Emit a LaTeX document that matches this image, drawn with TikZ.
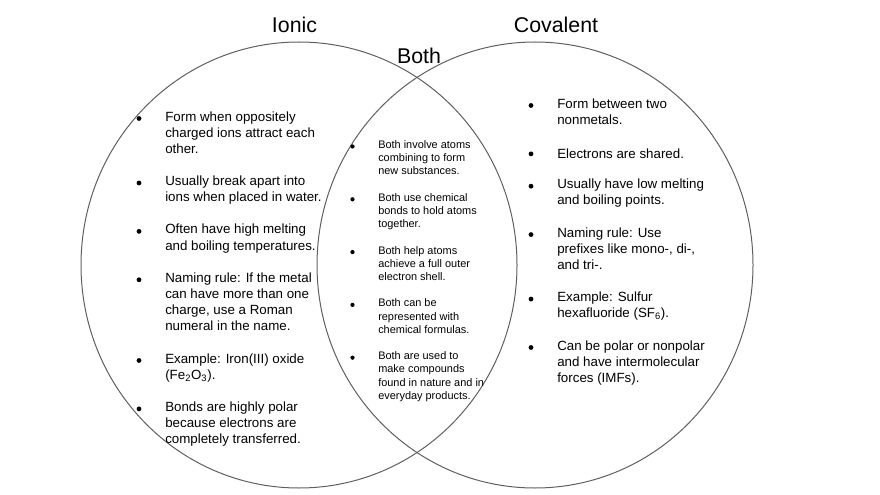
\documentclass[tikz,border=0pt]{standalone}
\usepackage{fontspec}
\setmainfont{Liberation Sans}
\usepackage{xcolor}
\usetikzlibrary{calc}
\definecolor{ringGray}{HTML}{5f5f5f}

\begin{document}
\begin{tikzpicture}[
  x=0.75pt, y=-0.75pt,
  ring/.style={draw=ringGray, line width=0.75pt},
  title/.style={anchor=base, inner sep=0pt, font=\fontsize{16}{19}\selectfont},
  sideItem/.style={anchor=north west, align=left, inner sep=0pt, yshift=-1.1pt,
    font=\fontsize{10}{12.1}\selectfont, execute at begin node=\strut},
  midItem/.style={anchor=north west, align=left, inner sep=0pt, yshift=-1.1pt,
    font=\fontsize{8.2}{9.9}\selectfont, execute at begin node=\strut},
]
  \useasboundingbox (0,0) rectangle (880,495);

  % the two sets
  \draw[ring] (299,265) ellipse [x radius=218, y radius=223];
  \draw[ring] (535,265) ellipse [x radius=218, y radius=223];

  \node[title] (ionic) at (294.5,33) {Ionic};
  \node[title] (covalent) at (556,33) {Covalent};
  \node[title] (both) at (419,64) {Both};

  % Ionic
  \node[sideItem] (ion1) at (165,109.7) {Form when oppositely\\charged ions attract each\\other.};
  \node[sideItem] (ion2) at (165,174.2) {Usually break apart into\\ions when placed in water.};
  \node[sideItem] (ion3) at (165,222.6) {Often have high melting\\and boiling temperatures.};
  \node[sideItem] (ion4) at (165,271.0) {Naming rule: If the metal\\can have more than one\\charge, use a Roman\\numeral in the name.};
  \node[sideItem] (ion5) at (165,351.7) {Example: Iron(III) oxide\\(Fe\textsubscript{2}O\textsubscript{3}).};
  \node[sideItem] (ion6) at (165,400.1) {Bonds are highly polar\\because electrons are\\completely transferred.};

  % Both
  \node[midItem] (both1) at (378,138.8) {Both involve atoms\\combining to form\\new substances.};
  \node[midItem] (both2) at (378,191.6) {Both use chemical\\bonds to hold atoms\\together.};
  \node[midItem] (both3) at (378,244.4) {Both help atoms\\achieve a full outer\\electron shell.};
  \node[midItem] (both4) at (378,297.2) {Both can be\\represented with\\chemical formulas.};
  \node[midItem] (both5) at (378,350.0) {Both are used to\\make compounds\\found in nature and in\\everyday products.};

  % Covalent
  \node[sideItem] (cov1) at (557,96.7) {Form between two\\nonmetals.};
  \node[sideItem] (cov2) at (557,145.1) {Electrons are shared.};
  \node[sideItem] (cov3) at (557,177.4) {Usually have low melting\\and boiling points.};
  \node[sideItem] (cov4) at (557,225.8) {Naming rule: Use\\prefixes like mono-, di-,\\and tri-.};
  \node[sideItem] (cov5) at (557,290.3) {Example: Sulfur\\hexafluoride (SF\textsubscript{6}).};
  \node[sideItem] (cov6) at (557,338.7) {Can be polar or nonpolar\\and have intermolecular\\forces (IMFs).};

  % bullets
  \foreach \n in {ion1,ion2,ion3,ion4,ion5,ion6,cov1,cov2,cov3,cov4,cov5,cov6}
    \fill ($(\n.north west)+(-26,7.3)$) circle (2.4);
  \foreach \n in {both1,both2,both3,both4,both5}
    \fill ($(\n.north west)+(-25.5,6.2)$) circle (2.1);
\end{tikzpicture}
\end{document}
